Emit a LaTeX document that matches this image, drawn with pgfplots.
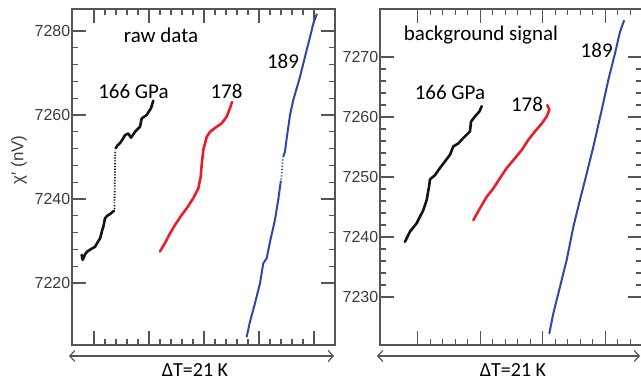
\documentclass[border=0pt]{standalone}
\usepackage{pgfplots}
\pgfplotsset{compat=1.18}
\usepackage{fontspec}
\setmainfont{Carlito}
\newfontfamily\tickfont{Liberation Sans}
\usetikzlibrary{arrows.meta}
\definecolor{myred}{RGB}{235,30,38}
\definecolor{myblue}{RGB}{45,72,165}
\definecolor{myblack}{RGB}{20,20,20}
\definecolor{axgray}{RGB}{85,85,85}
\definecolor{ticktext}{RGB}{60,60,60}
\pgfplotsset{
  mypanel/.style={
    scale only axis, anchor=south west,
    axis line style={axgray, line width=1.1pt},
    tick style={axgray, line width=1.1pt},
    major tick length=14pt, minor tick length=6pt,
    tick align=inside,
    xtick={0,5,10,15,20},
    xticklabels={},
    minor x tick num=4,
    minor y tick num=4,
    yticklabel style={font=\tickfont\fontsize{16}{16}\selectfont, text=ticktext, inner sep=1.5pt},
    /pgf/number format/assume math mode=true,
    /pgf/number format/1000 sep={},
    clip=false,
  },
  thickblk/.style={myblack, line width=2.6pt, line join=round, line cap=round},
  thickred/.style={myred, line width=2.6pt, line join=round, line cap=round},
  thinblue/.style={myblue, line width=2pt, line join=round, line cap=round},
}
\begin{document}
\begin{tikzpicture}
\useasboundingbox (0,0) rectangle (641pt,381pt);
% ---------------- left panel: raw data ----------------
\begin{axis}[mypanel, at={(72pt,36pt)}, width=263pt, height=336pt,
  xmin=-2, xmax=21.91, ymin=7205.24, ymax=7285.24,
  ytick={7220,7240,7260,7280}]
\addplot[thickblk] coordinates {(-1.12,7226.7) (-1.03,7225.5) (-0.80,7226.9) (-0.61,7227.5) (-0.2,7228.2) (0.09,7228.6) (0.35,7229.8) (0.55,7230.6) (0.75,7232.6) (0.85,7233.4) (1.0,7235.4) (1.2,7236.0) (1.45,7236.4) (1.82,7237.2)};
\addplot[myblack, line width=1.8pt, dash pattern=on 1.2pt off 1.6pt] coordinates {(1.86,7237.6) (1.93,7251.6)};
\addplot[thickblk] coordinates {(1.97,7252.1) (2.15,7252.8) (2.36,7253.3) (2.6,7254.2) (2.82,7255.2) (3.12,7255.6) (3.36,7254.6) (3.73,7256.0) (4.18,7257.2) (4.34,7259.2) (4.79,7260.0) (5.18,7261.6) (5.39,7263.4)};
\addplot[thickred] coordinates {(6.0,7227.5) (6.45,7229.5) (6.91,7231.8) (7.36,7233.8) (7.97,7236.2) (8.43,7237.8) (9.03,7240.2) (9.48,7242.5) (9.70,7245.3) (9.79,7248.1) (9.94,7251.7) (10.25,7254.8) (10.55,7256.0) (11.15,7257.2) (11.61,7258.0) (12.06,7259.6) (12.36,7261.6) (12.55,7263.1)};
\addplot[thinblue] coordinates {(13.88,7207.2) (14.18,7210.8) (14.64,7215.2) (15.09,7219.9) (15.39,7224.7) (15.70,7225.9) (16.0,7229.8) (16.45,7235.0) (16.75,7239.8) (16.98,7244.2)};
\addplot[myblue, line width=1.6pt, dash pattern=on 1.2pt off 2pt] coordinates {(17.02,7244.6) (17.17,7249.6)};
\addplot[thinblue] coordinates {(17.21,7250.1) (17.36,7251.3) (17.52,7254.5) (17.82,7260.0) (18.12,7263.6) (18.43,7266.4) (18.73,7269.1) (19.03,7272.3) (19.34,7275.5) (19.64,7278.6) (19.94,7281.8) (20.25,7284.0)};
\end{axis}
% ---------------- right panel: background signal ----------------
\begin{axis}[mypanel, at={(380pt,36pt)}, width=262pt, height=336pt,
  xmin=-3.016, xmax=17.94, ymin=7222, ymax=7278,
  ytick={7230,7240,7250,7260,7270}]
\addplot[thickblk] coordinates {(-1.02,7239.2) (-0.62,7240.9) (-0.08,7242.3) (0.45,7244.5) (0.72,7246.2) (0.93,7248.7) (0.98,7249.6) (1.38,7250.3) (1.78,7251.5) (2.18,7252.6) (2.58,7253.7) (2.85,7255.1) (3.25,7255.6) (3.65,7256.5) (4.18,7257.6) (4.26,7259.2) (4.58,7260.1) (4.93,7260.9) (5.12,7261.8)};
\addplot[thickred] coordinates {(4.45,7242.8) (4.98,7244.8) (5.52,7246.7) (6.05,7248.1) (6.58,7249.8) (7.12,7251.5) (7.65,7252.8) (8.32,7254.5) (8.85,7256.2) (9.38,7257.6) (9.92,7258.9) (10.32,7260.1) (10.53,7261.2) (10.37,7262.0)};
\addplot[thinblue] coordinates {(10.53,7223.95) (10.85,7227.3) (11.38,7231.7) (11.92,7236.2) (12.45,7241.7) (12.98,7246.2) (13.52,7250.6) (14.05,7255.05) (14.72,7261.2) (15.25,7266.2) (15.78,7270.6) (16.18,7274.2) (16.5,7276.05)};
\end{axis}
% ---------------- annotations ----------------
\begin{scope}[every node/.style={font=\fontsize{21}{21}\selectfont, inner sep=0pt, anchor=base}]
\node at (161pt,338pt) {raw data};
\node at (133.5pt,282pt) {166 GPa};
\node at (226.5pt,282pt) {178};
\node at (283pt,312.7pt) {189};
\node at (481pt,340.3pt) {background signal};
\node at (450pt,281.7pt) {166 GPa};
\node at (527pt,269.3pt) {178};
\node at (596.7pt,323.7pt) {189};
\end{scope}
\begin{scope}[every node/.style={font=\fontsize{20}{20}\selectfont, inner sep=0pt, anchor=base}]
\node at (195pt,5pt) {ΔT=21 K};
\node at (513pt,5pt) {ΔT=21 K};
\end{scope}
\node[rotate=90, font=\tickfont\fontsize{17}{17}\selectfont, text=ticktext, inner sep=0pt] at (19pt,221pt) {χ′ (nV)};
\draw[axgray, line width=1.2pt, {Straight Barb[length=5pt,width=11pt]}-{Straight Barb[length=5pt,width=11pt]}] (69pt,25pt) -- (334pt,25pt);
\draw[axgray, line width=1.2pt, {Straight Barb[length=5pt,width=11pt]}-{Straight Barb[length=5pt,width=11pt]}] (377pt,25pt) -- (640pt,25pt);
\end{tikzpicture}
\end{document}
